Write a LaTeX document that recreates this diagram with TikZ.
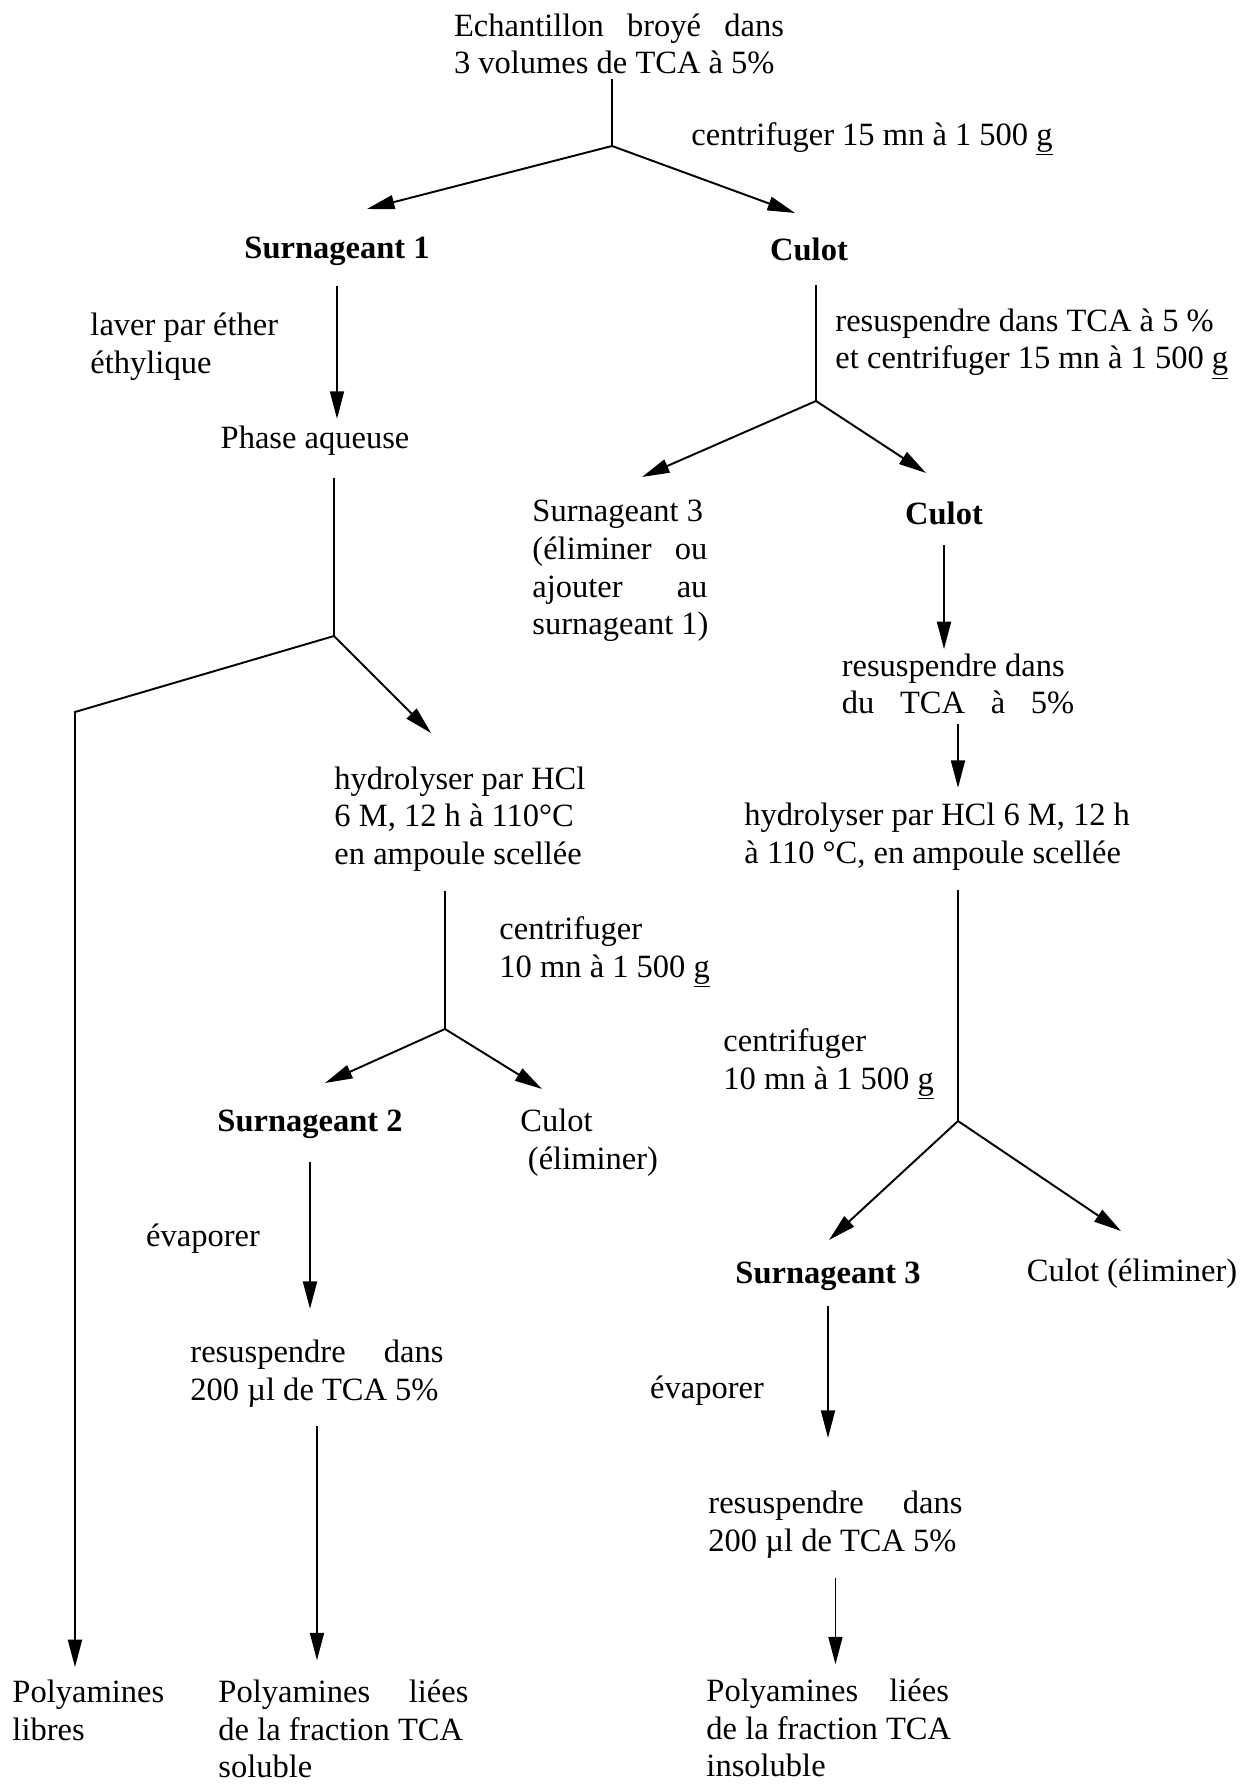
\documentclass[tikz,border=0pt]{standalone}
\usepackage{fontspec}
\setmainfont{Liberation Serif}
\usetikzlibrary{arrows.meta}
\newcommand{\fsz}{\fontsize{18.5}{21.5}\selectfont}
\newcommand{\spread}[2]{\makebox[#1][s]{#2}}

\begin{document}
\begin{tikzpicture}
[
  x=0.02cm, y=-0.02cm,
  font=\fsz,
  inner sep=2pt,
  stage/.style={font=\fsz\bfseries},
  note/.style={align=left, anchor=west},
  >={Triangle[length=0.55cm,width=0.28cm]},
  line width=1.1pt
]
 \useasboundingbox (0,0) rectangle (1245,1787);

 \node[align=left] (ech) at (619,44) {\spread{6.6cm}{Echantillon broyé dans}\\3 volumes de TCA à 5\%};
 \coordinate (j1) at (612,146);
 \coordinate (t-s1) at (367,209);
 \coordinate (t-c1) at (795,213);
 \node[note] (cf1) at (687,139) {centrifuger 15 mn à 1 500 \underline{g}};
 \node[stage] (s1) at (337,251) {Surnageant 1};
 \node[stage] (c1) at (809,249) {Culot};

 % branche surnageant 1
 \node[note] (lav) at (86,347) {laver par éther\\éthylique};
 \node (pa) at (315,441) {Phase aqueuse};
 \coordinate (j2) at (334,636);
 \coordinate (k2) at (75,712);
 \coordinate (t-hy1) at (431,733);
 \node[note] (hy1) at (330,819) {hydrolyser par HCl\\6 M, 12 h à 110°C\\en ampoule scellée};
 \coordinate (j3) at (445,1029);
 \coordinate (t-s2) at (325,1083);
 \coordinate (t-cu2) at (542,1089);
 \node[note] (cf2) at (495,952) {centrifuger\\10 mn à 1 500 \underline{g}};
 \node[stage] (s2) at (310,1124) {Surnageant 2};
 \node[note] (cu2) at (516,1143) {Culot\\\hspace*{0.15cm}(éliminer)};
 \node (evap1) at (203,1239) {évaporer};
 \node[note] (rs1) at (186,1374) {\spread{5.06cm}{resuspendre dans}\\200 µl de TCA 5\%};
 \node[note] (pls) at (214,1729) {\spread{5.0cm}{Polyamines liées}\\de la fraction TCA\\soluble};
 \node[note] (plib) at (8,1710) {Polyamines\\libres};

 % branche culot
 \coordinate (j4) at (816,401);
 \coordinate (t-s3) at (642,477);
 \coordinate (t-c2) at (926,473);
 \node[note] (rsl) at (831,344) {resuspendre dans TCA à 5 \%\\et centrifuger 15 mn à 1 500 \underline{g}};
 \node[note] (s3a) at (528,571) {Surnageant 3\\\spread{3.5cm}{(éliminer ou}\\\spread{3.5cm}{ajouter au}\\surnageant 1)};
 \node[stage] (c2) at (944,513) {Culot};
 \node[align=left] (rs2) at (958,684) {resuspendre dans\\\spread{4.65cm}{du TCA à 5\%}};
 \node[note] (hy2) at (740,837) {hydrolyser par HCl 6 M, 12 h\\à 110 °C, en ampoule scellée};
 \coordinate (j5) at (958,1121);
 \coordinate (t-s3b) at (829,1240);
 \coordinate (t-c3) at (1121,1231);
 \node[note] (cf3) at (719,1064) {centrifuger\\10 mn à 1 500 \underline{g}};
 \node[stage] (s3b) at (828,1276) {Surnageant 3};
 \node (c3) at (1132,1274) {Culot (éliminer)};
 \node (evap2) at (707,1391) {évaporer};
 \node[note] (rs3) at (704,1525) {\spread{5.08cm}{resuspendre dans}\\200 µl de TCA 5\%};
 \node[note] (pli) at (702,1728) {\spread{4.85cm}{Polyamines liées}\\de la fraction TCA\\insoluble};

 \draw (ech.south -| j1) -- (j1);
 \draw[->] (j1) -- (t-s1);
 \draw[->] (j1) -- (t-c1);
 \draw[->, shorten <=0.32cm, shorten >=0.06cm] (s1) -- (s1 |- pa.north);
 \draw[shorten <=0.36cm] (pa.south -| j2) -- (j2);
 \draw[->, shorten >=0.16cm] (j2) -- (k2) -- (k2 |- plib.north);
 \draw[->] (j2) -- (t-hy1);
 \draw[shorten <=0.3cm] (hy1.south -| j3) -- (j3);
 \draw[->] (j3) -- (t-s2);
 \draw[->] (j3) -- (t-cu2);
 \draw[->, shorten <=0.38cm, shorten >=0.54cm] (s2) -- (s2 |- rs1.north);
 \draw[->, shorten <=0.28cm, shorten >=0.3cm] (rs1) -- (rs1 |- pls.north);

 \draw[shorten <=0.4cm] (c1.south -| j4) -- (j4);
 \draw[->] (j4) -- (t-s3);
 \draw[->] (j4) -- (t-c2);
 \draw[->, shorten <=0.32cm] (c2) -- (c2 |- rs2.north);
 \draw[->, shorten <=0.1cm, shorten >=0.22cm] (rs2) -- (rs2 |- hy2.north);
 \draw[shorten <=0.3cm] (hy2.south -| j5) -- (j5);
 \draw[->] (j5) -- (t-s3b);
 \draw[->] (j5) -- (t-c3);
 \draw[->, shorten <=0.22cm, shorten >=0.98cm] (s3b) -- (s3b |- rs3.north);
 \draw[->, shorten <=0.3cm, shorten >=0.2cm] (rs3) -- (rs3 |- pli.north);
\end{tikzpicture}
\end{document}
